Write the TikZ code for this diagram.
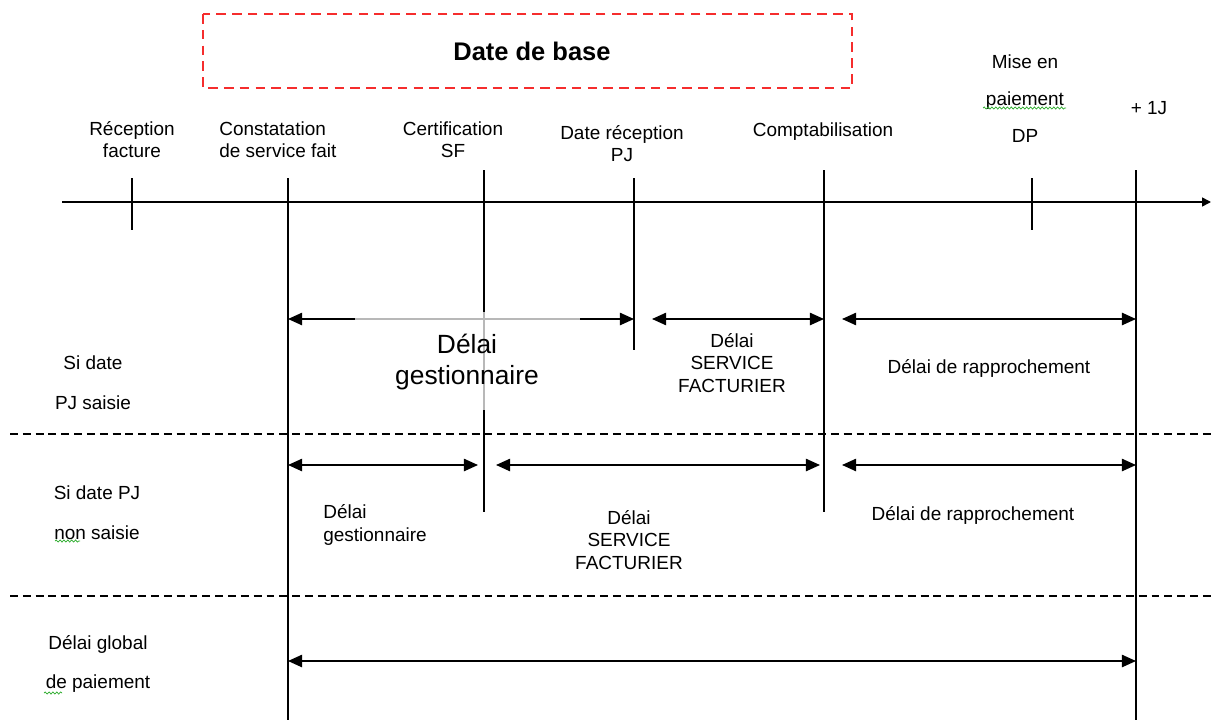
\documentclass[tikz,border=0pt]{standalone}
\usepackage{fontspec}
\setmainfont{Liberation Sans}
\usepackage{tikz}
\usetikzlibrary{arrows.meta,positioning,calc,decorations.pathmorphing}
\definecolor{basered}{RGB}{245,45,45}
\definecolor{spellgreen}{RGB}{40,170,40}

\tikzset{
  tickline/.style={line width=0.85pt},
  span/.style={line width=0.9pt,
    {Triangle[length=8pt,width=7pt]}-{Triangle[length=8pt,width=7pt]}},
  rowsep/.style={line width=0.7pt, dash pattern=on 4.5pt off 2.8pt},
  lbl/.style={font=\fontsize{10.8}{12.6}\selectfont, align=center, inner sep=0pt},
  squig/.style={spellgreen, line width=0.4pt,
    decorate, decoration={snake, amplitude=0.6pt, segment length=2.2pt}}
}

\begin{document}
\begin{tikzpicture}[x=0.02cm,y=-0.02cm]
  \useasboundingbox (0,0) rectangle (1211,720);
  % Date de base box
  \draw[basered, line width=1.2pt, dash pattern=on 5.5pt off 3.5pt]
    (203,14) rectangle (852,88);
  \node[font=\fontsize{14.5}{17}\selectfont\bfseries, inner sep=0pt] (base) at (532,51) {Date de base};

  % time axis
  \coordinate (start) at (62,202);
  \coordinate (end) at (1211,202);
  \draw[line width=0.85pt, -{Triangle[length=5pt,width=5pt]}] (start) -- (end);
  \coordinate (rf) at (132,202);
  \coordinate (csf) at (288,202);
  \coordinate (cert) at (484,202);
  \coordinate (pj) at (634,202);
  \coordinate (cpt) at (824,202);
  \coordinate (dp) at (1032,202);
  \coordinate (j1) at (1136,202);
  \foreach \x/\t/\b in {132/178/230, 288/178/720, 484/170/512, 634/178/350,
                        824/170/512, 1032/178/230, 1136/170/720}
    \draw[tickline] (\x,\t) -- (\x,\b);

  % event labels
  \node[lbl] (recfact) at (132,140) {Réception\\facture};
  \node[lbl, anchor=west, align=left] (constat) at (219,140) {Constatation\\de service fait};
  \node[lbl] (certsf) at (453,140) {Certification\\SF};
  \node[lbl] (recpj) at (622,144) {Date réception\\PJ};
  \node[lbl] (compta) at (823,132) {Comptabilisation};
  \node[lbl] (miseenp) at (1025,99) {Mise en\\[8.4pt]paiement\\[8.4pt]DP};
  \node[lbl] (plusj) at (1149,108) {+ 1J};

  % row levels
  \coordinate (r1) at (0,319);
  \coordinate (r2) at (0,465);
  \coordinate (r3) at (0,661);

  % si date PJ saisie
  \draw[span] (csf |- r1) -- (pj |- r1);
  \draw[span] ($(pj |- r1)+(18,0)$) -- (cpt |- r1);
  \draw[span] ($(cpt |- r1)+(18,0)$) -- (j1 |- r1);
  \fill[white, opacity=0.72] (355,312) rectangle (580,410);
  \node[lbl, font=\fontsize{15}{17.6}\selectfont] (gest1) at (467,362) {Délai\\gestionnaire};
  \node[lbl] (fact1) at (732,363) {Délai\\SERVICE\\FACTURIER};
  \node[lbl] (rapp1) at (989,368) {Délai de rapprochement};
  \node[lbl] (cas1) at (93,383) {Si date\\[10pt]PJ saisie};

  \draw[rowsep] (10,434) -- (1211,434);

  % si date PJ non saisie
  \draw[span] (csf |- r2) -- ($(cert |- r2)+(-6,0)$);
  \draw[span] ($(cert |- r2)+(12,0)$) -- ($(cpt |- r2)+(-4,0)$);
  \draw[span] ($(cpt |- r2)+(18,0)$) -- (j1 |- r2);
  \node[lbl, anchor=west, align=left] (gest2) at (323,525) {Délai\\gestionnaire};
  \node[lbl] (fact2) at (629,540) {Délai\\SERVICE\\FACTURIER};
  \node[lbl] (rapp2) at (973,515) {Délai de rapprochement};
  \node[lbl] (cas2) at (97,513) {Si date PJ\\[10pt]non saisie};

  \draw[rowsep] (10,596) -- (1211,596);

  % delai global
  \draw[span] (csf |- r3) -- (j1 |- r3);
  \node[lbl] (global) at (98,664) {Délai global\\[10pt]de paiement};

  % spell-check marks
  \draw[squig] (983,108) -- (1066,108);
  \draw[squig] (55,541) -- (80,541);
  \draw[squig] (44,693) -- (62,693);
\end{tikzpicture}
\end{document}
